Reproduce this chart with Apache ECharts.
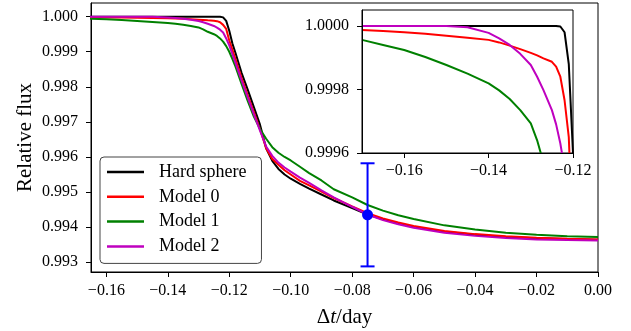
<!DOCTYPE html>
<html>
<head>
    <meta charset="utf-8">
    <script type="text/javascript" src="https://fastly.jsdelivr.net/npm/echarts@6.0.0/dist/echarts.min.js"></script>
</head>
<body style="height: 100%; margin: 0; background: #fff">
<div id="container" style="width: 631px; height: 331px"></div>
<script type="text/javascript">
    // time offsets (day)
    var t = [-0.17, -0.165, -0.16, -0.155, -0.15, -0.145, -0.14, -0.1375, -0.135, -0.1325, -0.13, -0.1285, -0.127, -0.125, -0.124, -0.123, -0.122, -0.121, -0.12,
        -0.119, -0.118, -0.116, -0.114, -0.112, -0.11, -0.108, -0.106, -0.104, -0.102, -0.1, -0.097, -0.094, -0.09, -0.086, -0.08,
        -0.075, -0.07, -0.065, -0.06, -0.05, -0.04, -0.03, -0.02, -0.01, 0];
    var hardSphere = [1, 1, 1, 1, 1, 1, 1, 1, 1, 1, 1, 1, 1, 1, 1, 0.999998, 0.99998, 0.99988, 0.9996,
        0.99924, 0.99897, 0.9984, 0.99792, 0.99742, 0.99692, 0.99625, 0.99589, 0.99566, 0.9955, 0.99538, 0.99523, 0.9951, 0.99493, 0.99476, 0.99454,
        0.99436, 0.99422, 0.9941, 0.994, 0.99387, 0.99378, 0.99372, 0.99368, 0.99366, 0.99364];
    var model0 = [0.999987, 0.999984, 0.99998, 0.999975, 0.999969, 0.999963, 0.999956, 0.999948, 0.999938, 0.999927, 0.999915, 0.999907, 0.999898, 0.999887, 0.999872, 0.99984, 0.999766, 0.99965, 0.99932,
        0.99906, 0.99879, 0.99825, 0.99776, 0.99728, 0.99679, 0.99625, 0.99594, 0.99578, 0.99562, 0.9955, 0.99532, 0.99519, 0.99501, 0.99483, 0.99459,
        0.9944, 0.99425, 0.99413, 0.99403, 0.99389, 0.9938, 0.99374, 0.9937, 0.99367, 0.99365];
    var model1 = [0.999956, 0.99994, 0.999924, 0.999902, 0.999877, 0.99985, 0.999819, 0.999797, 0.99977, 0.999735, 0.999693, 0.99964, 0.99957, 0.9995, 0.99945, 0.99938, 0.99929, 0.99916, 0.999,
        0.9988, 0.99858, 0.99808, 0.9976, 0.99715, 0.9968, 0.99652, 0.99628, 0.99612, 0.996, 0.9959, 0.99572, 0.99554, 0.99533, 0.99508, 0.99485,
        0.99463, 0.99447, 0.99434, 0.99423, 0.99405, 0.99393, 0.99384, 0.99378, 0.99374, 0.99372];
    var model2 = [1, 1, 1, 1, 1, 0.999996, 0.999978, 0.999961, 0.99994, 0.999912, 0.999877, 0.99984, 0.999798, 0.999735, 0.99969, 0.99963, 0.99955, 0.99938, 0.99918,
        0.99894, 0.99869, 0.99818, 0.9977, 0.99722, 0.99675, 0.9963, 0.99603, 0.99584, 0.9957, 0.99558, 0.99541, 0.99526, 0.99505, 0.99485, 0.99458,
        0.99436, 0.9942, 0.99408, 0.99398, 0.99384, 0.99375, 0.99369, 0.99365, 0.99363, 0.99362];

    // observed point with error bar
    var obsT = [-0.075];
    var obsFlux = [0.99435];
    var obsErr = [0.00147];

    var xTicks = [-0.16, -0.14, -0.12, -0.10, -0.08, -0.06, -0.04, -0.02, 0];
    var yTicks = [0.993, 0.994, 0.995, 0.996, 0.997, 0.998, 0.999, 1.000];
    var insetXTicks = [-0.16, -0.14, -0.12];
    var insetYTicks = [0.9996, 0.9998, 1.0000];

    var names = ['Hard sphere', 'Model 0', 'Model 1', 'Model 2'];
    var curves = [hardSphere, model0, model1, model2];
    var colors = ['#000000', '#ff0000', '#008000', '#bf00bf'];

    var FONT = 'Liberation Serif';

    function minus(s) {
        return s.replace('-', '\u2212');
    }

    function makeAxis(idx, min, max, ticks, digits, margin, extra) {
        var ax = {
            type: 'value', gridIndex: idx, min: min, max: max,
            axisLine: {onZero: false, lineStyle: {color: '#000', width: 1}},
            axisTick: {inside: false, length: 5, customValues: ticks, lineStyle: {color: '#000', width: 1}},
            axisLabel: {
                customValues: ticks, margin: margin, color: '#000', fontFamily: FONT, fontSize: 16,
                formatter: function (v) { return minus(v.toFixed(digits)); }
            },
            splitLine: {show: false}
        };
        return Object.assign(ax, extra || {});
    }

    var series = [];
    for (var g = 0; g < 2; g++) {
        for (var i = 0; i < curves.length; i++) {
            var pts = [];
            for (var k = 0; k < t.length; k++) pts.push([t[k], curves[i][k]]);
            series.push({
                name: names[i], type: 'line', xAxisIndex: g, yAxisIndex: g,
                data: pts, symbol: 'none', smooth: false, clip: true,
                lineStyle: {color: colors[i], width: 2},
                itemStyle: {color: colors[i]},
                z: (g === 0 ? 2 : 20) + i
            });
        }
    }

    var errData = [];
    for (var j = 0; j < obsT.length; j++) {
        errData.push([obsT[j], obsFlux[j], obsFlux[j] - obsErr[j], obsFlux[j] + obsErr[j]]);
    }
    series.push({
        type: 'custom', xAxisIndex: 0, yAxisIndex: 0, data: errData, z: 10,
        renderItem: function (params, api) {
            var p = api.coord([api.value(0), api.value(1)]);
            var lo = api.coord([api.value(0), api.value(2)]);
            var hi = api.coord([api.value(0), api.value(3)]);
            var st = {stroke: '#0000ff', lineWidth: 2};
            return {
                type: 'group',
                children: [
                    {type: 'line', shape: {x1: lo[0], y1: lo[1], x2: hi[0], y2: hi[1]}, style: st},
                    {type: 'line', shape: {x1: lo[0] - 7, y1: lo[1], x2: lo[0] + 7, y2: lo[1]}, style: st},
                    {type: 'line', shape: {x1: hi[0] - 7, y1: hi[1], x2: hi[0] + 7, y2: hi[1]}, style: st},
                    {type: 'circle', shape: {cx: p[0], cy: p[1], r: 5.5}, style: {fill: '#0000ff'}}
                ]
            };
        }
    });

    var dom = document.getElementById('container');
    var myChart = echarts.init(dom, null, {renderer: 'canvas'});

    var option = {
        animation: false,
        backgroundColor: '#fff',
        grid: [
            {left: 91, top: 3, right: 33, bottom: 59, show: true, borderColor: '#000', borderWidth: 1, backgroundColor: '#fff', outerBoundsMode: 'none'},
            {left: 362, top: 10, width: 211, height: 143, show: true, borderColor: '#000', borderWidth: 1, backgroundColor: '#fff', z: 15, outerBoundsMode: 'none'}
        ],
        legend: {
            data: names,
            orient: 'vertical', left: 100, top: 157,
            icon: 'rect', itemWidth: 37, itemHeight: 2.5, itemGap: 4.8,
            padding: [5, 15, 7, 7],
            backgroundColor: '#fff', borderColor: '#444', borderWidth: 1, borderRadius: 4,
            textStyle: {fontFamily: FONT, fontSize: 18, color: '#000', lineHeight: 20, padding: [0, 0, 0, 10]}
        },
        xAxis: [
            makeAxis(0, -0.165, 0, xTicks, 2, 11, {
                name: '\u0394{i|t}/day', nameLocation: 'middle', nameGap: 35, nameMoveOverlap: false,
                nameTextStyle: {fontFamily: FONT, fontSize: 21, color: '#000', rich: {i: {fontFamily: FONT, fontSize: 21, fontStyle: 'italic', color: '#000'}}}
            }),
            makeAxis(1, -0.17, -0.12, insetXTicks, 2, 10, {z: 30})
        ],
        yAxis: [
            makeAxis(0, 0.99272, 1.00039, yTicks, 3, 13, {
                name: 'Relative flux', nameLocation: 'middle', nameGap: 55, nameMoveOverlap: false,
                nameTextStyle: {fontFamily: FONT, fontSize: 21, color: '#000'}
            }),
            makeAxis(1, 0.9996, 1.00005, insetYTicks, 4, 13, {z: 30})
        ],
        series: series
    };

    myChart.setOption(option);
    window.addEventListener('resize', myChart.resize);
</script>
</body>
</html>
